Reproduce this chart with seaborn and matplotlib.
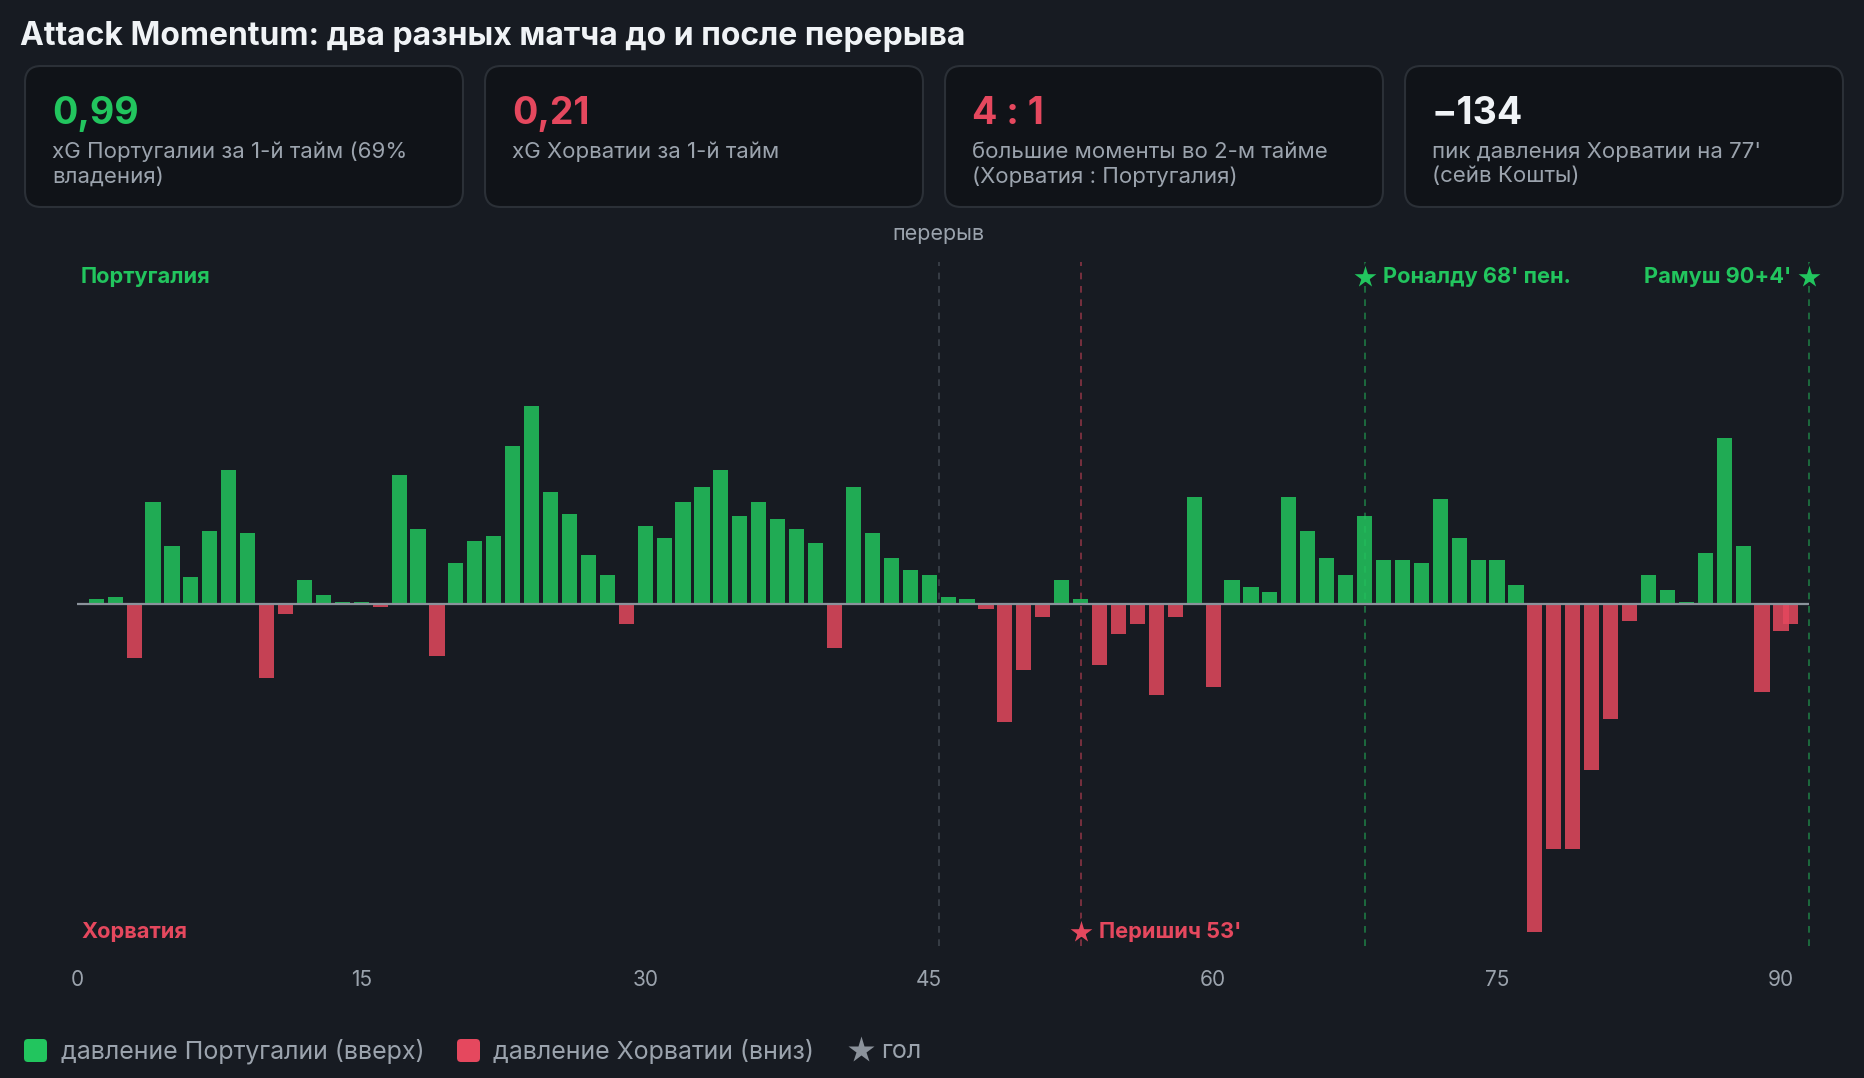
import matplotlib
matplotlib.use("Agg")
import matplotlib.pyplot as plt
from matplotlib.patches import FancyBboxPatch
import pandas as pd
import seaborn as sns

# attack momentum per minute: + Portugal pressure, - Croatia pressure
minutes = list(range(1, 91))
momentum = [2, 3, -22, 42, 24, 11, 30, 55, 29, -30,
            -4, 10, 4, 1, 1, -1, 53, 31, -21, 17,
            26, 28, 65, 81, 46, 37, 20, 12, -8, 32,
            27, 42, 48, 55, 36, 42, 35, 31, 25, -18,
            48, 29, 19, 14, 12, 3, 2, -2, -48, -27,
            -5, 10, 2, -25, -12, -8, -37, -5, 44, -34,
            10, 7, 5, 44, 30, 19, 12, 36, 18, 18,
            17, 43, 27, 18, 18, 8, -134, -100, -100, -68,
            -47, -7, 12, 6, 1, 21, 68, 24, -36, -11]
# stoppage time bar drawn after 90'
extra_minutes = [90.5]
extra_momentum = [-8]

halftime = 45.5
goal_minutes = [53, 68, 91.5]
goal_labels = ["Перишич 53'", "Роналду 68' пен.", "Рамуш 90+4'"]
goal_team = ["cro", "por", "por"]

card_values = ["0,99", "0,21", "4 : 1", "\u2212134"]
card_texts = ["xG Португалии за 1-й тайм (69%\nвладения)",
              "xG Хорватии за 1-й тайм",
              "большие моменты во 2-м тайме\n(Хорватия : Португалия)",
              "пик давления Хорватии на 77'\n(сейв Кошты)"]
card_kind = ["por", "cro", "cro", "neutral"]

title = "Attack Momentum: два разных матча до и после перерыва"
legend_labels = ["давление Португалии (вверх)", "давление Хорватии (вниз)", "гол"]

BG = "#171b22"
CARD = "#101318"
CARD_EDGE = "#2b3037"
GREEN = "#22c55e"
RED = "#e5485e"
WHITE = "#f0f3f6"
GRAY = "#9ba3ad"
colors = {"por": GREEN, "cro": RED, "neutral": WHITE}

sns.set_theme(style="dark", rc={"axes.facecolor": BG, "figure.facecolor": BG})
plt.rcParams["font.family"] = ["Inter", "DejaVu Sans"]

W, H = 1864, 1078
fig = plt.figure(figsize=(W / 100, H / 100), dpi=100, facecolor=BG)

# pixel overlay for header, cards and legend
bg = fig.add_axes([0, 0, 1, 1], zorder=0)
bg.set_xlim(0, W)
bg.set_ylim(H, 0)
bg.axis("off")

bg.text(20, 37, title, fontsize=23, fontweight="bold", color=WHITE, va="center", ha="left")

card_x = [25, 485, 945, 1405]
for x0, val, txt, kind in zip(card_x, card_values, card_texts, card_kind):
    bg.add_patch(FancyBboxPatch((x0, 66), 438, 141, boxstyle="round,pad=0,rounding_size=16",
                                facecolor=CARD, edgecolor=CARD_EDGE, lw=1.5))
    bg.text(x0 + 27, 124, val, fontsize=27, fontweight="bold", color=colors[kind],
            va="baseline", ha="left")
    bg.text(x0 + 27, 141.5, txt, fontsize=16, color=GRAY, va="top", ha="left", linespacing=1.3)

# legend row
bg.add_patch(FancyBboxPatch((24, 1039), 23, 23, boxstyle="round,pad=0,rounding_size=4",
                            facecolor=GREEN, edgecolor="none"))
bg.text(61, 1051, legend_labels[0], fontsize=18, color=GRAY, va="center", ha="left")
bg.add_patch(FancyBboxPatch((457, 1039), 23, 23, boxstyle="round,pad=0,rounding_size=4",
                            facecolor=RED, edgecolor="none"))
bg.text(493, 1051, legend_labels[1], fontsize=18, color=GRAY, va="center", ha="left")
bg.plot([861], [1050], marker="*", ms=20, color="#8b929b", mec="none")
bg.text(881, 1051, legend_labels[2], fontsize=18, color=GRAY, va="center", ha="left")

# chart axes, placed so that minute 0 -> 77px and 90 -> 1781px
xlim = (-0.5, 92)
ylim = (-140, 140)
px_per_min = (1781 - 77.3) / 90
left_px = 77.3 + xlim[0] * px_per_min
right_px = 77.3 + xlim[1] * px_per_min
top_px, bottom_px = 262.3, 946.3
ax = fig.add_axes([left_px / W, 1 - bottom_px / H, (right_px - left_px) / W,
                   (bottom_px - top_px) / H], zorder=1)
ax.set_facecolor("none")

df = pd.DataFrame({"minute": minutes, "momentum": momentum})
df["side"] = ["por" if v >= 0 else "cro" for v in df["momentum"]]
sns.barplot(data=df, x="minute", y="momentum", hue="side", palette=colors,
            native_scale=True, width=0.8, dodge=False, legend=False,
            saturation=1, alpha=0.85, linewidth=0, ax=ax, zorder=2)
ax.bar(extra_minutes, extra_momentum, width=0.8, color=RED, alpha=0.85, lw=0, zorder=2)

ax.hlines(0, 0, 91.5, color="#8b929b", lw=1.6, zorder=3)
ax.axvline(halftime, color="#3d434c", lw=1.2, ls=(0, (4, 4)), zorder=1)
ax.text(halftime, 151.5, "перерыв", fontsize=15.5, color=GRAY, ha="center", va="center",
        clip_on=False)

ax.text(0.2, 134, "Португалия", fontsize=15.7, fontweight="bold", color=GREEN, va="center")
ax.text(0.2, -134, "Хорватия", fontsize=15.7, fontweight="bold", color=RED, va="center")

for m, lab, team in zip(goal_minutes, goal_labels, goal_team):
    c = colors[team]
    ax.axvline(m, color=c, lw=1.2, ls=(0, (4, 4)), alpha=0.55, zorder=1)
    y = 134 if team == "por" else -134
    ax.plot([m], [y], marker="*", ms=20, color=c, mec=BG, mew=1, zorder=4, clip_on=False)
    if m > 90:
        ax.text(m - 0.95, y, lab, fontsize=15.7, fontweight="bold", color=c, ha="right", va="center")
    else:
        ax.text(m + 0.95, y, lab, fontsize=15.7, fontweight="bold", color=c, ha="left", va="center")

ax.set_xlim(*xlim)
ax.set_ylim(*ylim)
ax.set_xticks([0, 15, 30, 45, 60, 75, 90])
ax.set_xticklabels(["0", "15", "30", "45", "60", "75", "90"])
ax.set_yticks([])
ax.tick_params(axis="x", length=0, pad=17, labelsize=15, labelcolor=GRAY)
ax.set_xlabel("")
ax.set_ylabel("")
ax.grid(False)
for s in ax.spines.values():
    s.set_visible(False)

fig.savefig("out.png", dpi=100, facecolor=BG)
